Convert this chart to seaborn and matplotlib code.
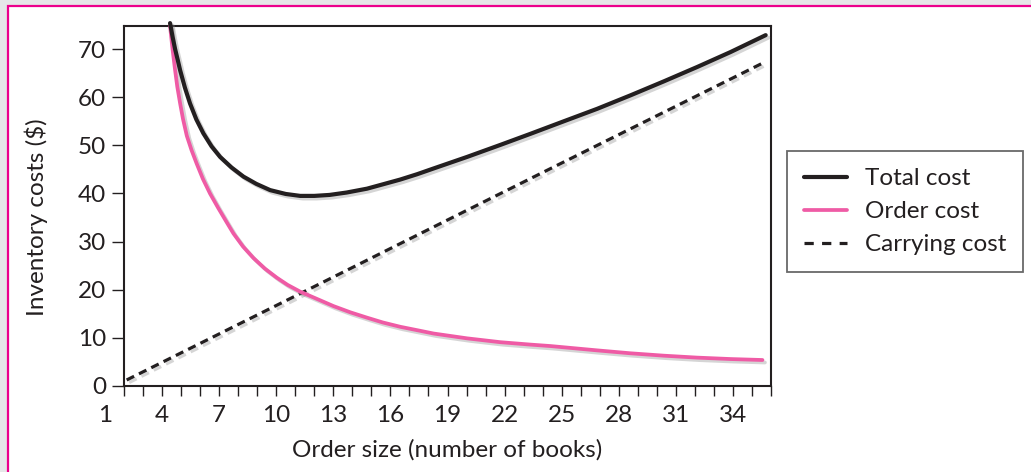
import numpy as np
import pandas as pd
import matplotlib
matplotlib.use("Agg")
import matplotlib.pyplot as plt
import matplotlib.patheffects as pe
from matplotlib.patches import Rectangle
import seaborn as sns

# ---- data ----
order_size_total = [4.42, 4.55, 4.68, 4.82, 4.95, 5.20, 5.47, 5.80, 6.17, 6.60, 7.05, 7.65,
                    8.28, 8.95, 9.68, 10.5, 11.26, 12.0, 12.8, 13.7, 14.77, 15.6, 16.52,
                    17.4, 18.27, 19.15, 20.03, 21.78, 23.36, 25.11, 26.87, 28.62, 30.37,
                    32.13, 33.88, 35.72]
total_cost = [75.4, 72.6, 70.1, 67.8, 65.6, 62.0, 58.7, 55.4, 52.5, 49.8, 47.6, 45.4,
              43.5, 42.0, 40.7, 39.9, 39.5, 39.5, 39.7, 40.2, 41.0, 41.9, 42.9,
              44.0, 45.2, 46.4, 47.6, 50.1, 52.4, 55.0, 57.6, 60.4, 63.3,
              66.3, 69.4, 72.9]

order_size_order = [4.42, 4.55, 4.68, 4.80, 4.95, 5.10, 5.30, 5.55, 5.82, 6.15, 6.52, 6.95,
                    7.40, 7.75, 8.25, 8.80, 9.40, 10.03, 10.6, 11.26, 12.31, 13.01, 13.9,
                    14.77, 15.6, 16.52, 17.4, 18.27, 20.03, 21.78, 23.36, 24.41, 26.87,
                    28.6, 30.37, 32.1, 33.88, 35.55]
order_cost = [74.8, 70.0, 65.8, 62.2, 58.7, 55.5, 52.0, 49.0, 46.2, 43.0, 40.0, 37.0,
              34.0, 31.7, 29.0, 26.6, 24.4, 22.5, 21.0, 19.6, 17.8, 16.6, 15.3,
              14.2, 13.2, 12.3, 11.6, 10.9, 9.9, 9.1, 8.6, 8.3, 7.4,
              6.8, 6.3, 5.9, 5.6, 5.4]

order_size_carry = [2.14, 11.26, 23.36, 35.72]
carrying_cost = [1.25, 19.2, 43.1, 67.4]

x_tick_labels = ["1", "4", "7", "10", "13", "16", "19", "22", "25", "28", "31", "34"]
y_ticks = [0, 10, 20, 30, 40, 50, 60, 70]
series_names = ["Total cost", "Order cost", "Carrying cost"]

# ---- style ----
sns.set_theme(style="white")
plt.rcParams["font.family"] = ["Lato", "DejaVu Sans"]

BLACK = "#231F20"
PINK = "#EF5BA5"
MAGENTA = "#EC008C"
BG = "#E6E7E8"
FS = 17.5

W, H = 1031, 472
fig = plt.figure(figsize=(W / 100, H / 100), dpi=100)
fig.patch.set_facecolor(BG)

# magenta framed white panel
panel = Rectangle((8 / W, -0.05), 1.2, (H - 6) / H + 0.05, transform=fig.transFigure,
                  facecolor="white", edgecolor=MAGENTA, linewidth=1.6, zorder=0)
fig.add_artist(panel)

L, R, T, B = 124, 771, 26, 386
ax = fig.add_axes([L / W, (H - B) / H, (R - L) / W, (B - T) / H])
ax.set_facecolor("none")

shadow = [pe.SimpleLineShadow(offset=(1.8, -1.8), shadow_color="#888888", alpha=0.35), pe.Normal()]

df_total = pd.DataFrame({"size": order_size_total, "cost": total_cost})
df_order = pd.DataFrame({"size": order_size_order, "cost": order_cost})
df_carry = pd.DataFrame({"size": order_size_carry, "cost": carrying_cost})

sns.lineplot(data=df_carry, x="size", y="cost", ax=ax, color=BLACK, linewidth=2.3,
             linestyle=(0, (2.6, 1.7)), sort=False, estimator=None, label=series_names[2],
             path_effects=shadow, clip_on=False, zorder=3)
sns.lineplot(data=df_order, x="size", y="cost", ax=ax, color=PINK, linewidth=2.7,
             sort=False, estimator=None, label=series_names[1],
             path_effects=shadow, clip_on=False, zorder=4, solid_joinstyle="round")
sns.lineplot(data=df_total, x="size", y="cost", ax=ax, color=BLACK, linewidth=3.0,
             sort=False, estimator=None, label=series_names[0],
             path_effects=shadow, clip_on=False, zorder=5, solid_joinstyle="round")

ax.set_xlim(2, 36)
ax.set_ylim(0, 74.8)

# x ticks: a tick at every unit, labels every third; the "1" label sits left of the axis
ax.set_xticks(np.arange(2, 37, 1))
tick_pos = [4 + 3 * i for i in range(len(x_tick_labels) - 1)]
lbls = []
for v in np.arange(2, 37, 1):
    lbls.append(x_tick_labels[tick_pos.index(v) + 1] if v in tick_pos else "")
ax.set_xticklabels(lbls)
ax.text(1, 0, x_tick_labels[0], ha="center", va="top", fontsize=FS, color=BLACK)

ax.set_yticks(y_ticks)
ax.set_yticklabels([str(v) for v in y_ticks])

ax.tick_params(axis="x", direction="out", length=7, width=1.0, color=BLACK,
               labelsize=FS, labelcolor=BLACK, pad=7, bottom=True)
ax.tick_params(axis="y", direction="out", length=9, width=1.0, color=BLACK,
               labelsize=FS, labelcolor=BLACK, pad=4, left=True)

for s in ax.spines.values():
    s.set_color(BLACK)
    s.set_linewidth(1.5)
    s.set_visible(True)

ax.set_xlabel("Order size (number of books)", fontsize=FS, color=BLACK, labelpad=9)
ax.set_ylabel("Inventory costs ($)", fontsize=FS, color=BLACK)
ax.yaxis.set_label_coords(-0.117, 0.47)

# align the "1" label with the other tick labels
fig.canvas.draw()
tl = [t for t in ax.get_xticklabels() if t.get_text() == "4"][0]
bb = tl.get_window_extent()
for t in ax.texts:
    x_disp = ax.transData.transform((1, 0))[0]
    t.set_transform(matplotlib.transforms.IdentityTransform())
    t.set_position((x_disp, bb.y1))

# legend
handles, labels = ax.get_legend_handles_labels()
order = [labels.index(n) for n in series_names]
leg = fig.legend([handles[i] for i in order], [labels[i] for i in order],
                 loc="upper left", bbox_to_anchor=(787 / W, 1 - 151 / H),
                 bbox_transform=fig.transFigure, fontsize=FS, frameon=True,
                 fancybox=False, borderpad=0.7, handlelength=1.75, handletextpad=0.75,
                 labelspacing=0.5, borderaxespad=0)
leg.get_frame().set_edgecolor("#444444")
leg.get_frame().set_linewidth(1.3)
for h in leg.legend_handles:
    h.set_path_effects([])
leg.legend_handles[2].set_linestyle((0, (2.9, 2.6)))
for t in leg.get_texts():
    t.set_color(BLACK)
ax.get_legend().remove()

fig.savefig("out.png", dpi=100, facecolor=fig.get_facecolor())
